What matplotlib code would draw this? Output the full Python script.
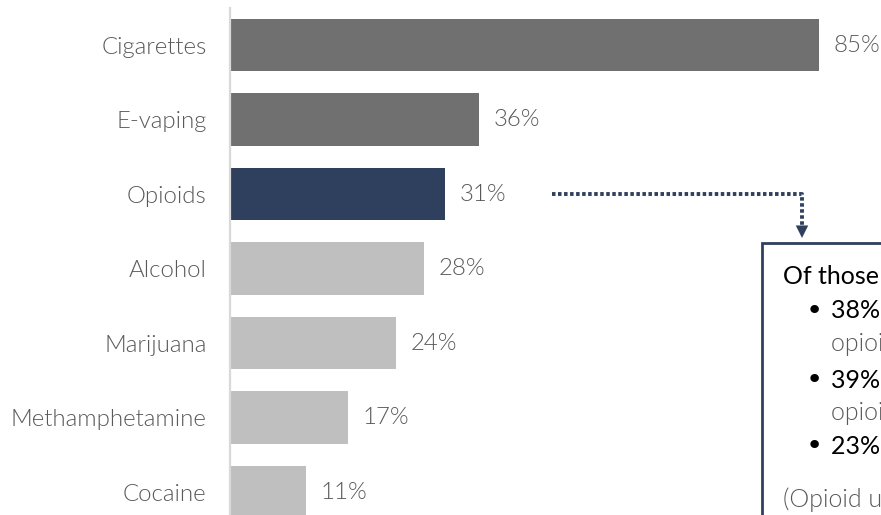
import matplotlib.pyplot as plt
from matplotlib import font_manager as fm
from matplotlib.patches import Rectangle

categories = ["Cigarettes", "E-vaping", "Opioids", "Alcohol", "Marijuana",
              "Methamphetamine", "Cocaine"]
values = [85, 36, 31, 28, 24, 17, 11]
bar_colors = ["#707070", "#707070", "#2F405E", "#BFBFBF", "#BFBFBF",
              "#BFBFBF", "#BFBFBF"]

note_heading = "Of those who misused opioids:"
note_bullets = [
    ("38% misused prescription", "opioids only"),
    ("39% misused prescription and", "opioids from other sources"),
    ("23% used illicit opioids only", None),
]
note_footer = "(Opioid use in the past 12 months)"

W, H = 881, 515
fig = plt.figure(figsize=(W / 100, H / 100), dpi=100)

# Lato Light for the labels, falling back to weight 300 lookup
light_path = None
for f in fm.fontManager.ttflist:
    if f.name == "Lato" and f.fname.endswith("Lato-Light.ttf"):
        light_path = f.fname
        break

def light_font(size):
    if light_path:
        return fm.FontProperties(fname=light_path, size=size)
    return fm.FontProperties(family="Lato", weight=300, size=size)

label_color = "#595959"
LABEL_SIZE = 17.3

# Axes in pixel terms: left edge at x=230, rows spaced 74.5 px from y=45
top_px = 45 - 74.5 / 2
bot_px = 45 + 74.5 * 6.5
ax = fig.add_axes([230 / W, (H - bot_px) / H, (W - 230) / W, (bot_px - top_px) / H])
px_per_unit = 6.93
ax.set_xlim(0, (W - 230) / px_per_unit)
ax.set_ylim(len(categories) - 0.5, -0.5)

ypos = list(range(len(categories)))
ax.barh(ypos, values, height=0.7, color=bar_colors, zorder=2)

ax.set_yticks(ypos)
ax.set_yticklabels(categories, color=label_color, fontproperties=light_font(LABEL_SIZE))
ax.tick_params(axis="y", length=0, pad=17)
ax.set_xticks([])
for s in ["top", "right", "bottom"]:
    ax.spines[s].set_visible(False)
ax.spines["left"].set_color("#D9D9D9")
ax.spines["left"].set_linewidth(1.6)

for y, v in zip(ypos, values):
    ax.text(v + 2.1, y, f"{v}%", va="center", ha="left",
            color=label_color, fontproperties=light_font(LABEL_SIZE))

# Dotted connector from the opioid bar to the note box
navy = "#2F405E"
op = categories.index("Opioids")
x0 = values[op] + 15.5
xc = (802 - 230) / px_per_unit
ax.plot([x0, xc, xc], [op, op, op + 0.50], color=navy, lw=2.8,
        linestyle=(0, (0.9, 0.65)), clip_on=False, zorder=3)
ax.annotate("", xy=(xc, op + 0.59), xytext=(xc, op + 0.37),
            arrowprops=dict(arrowstyle="-|>,head_length=0.9,head_width=0.45",
                            color=navy, lw=0, shrinkA=0, shrinkB=0),
            annotation_clip=False, zorder=4)

# Note box (extends past the figure edge)
fig.patches.append(Rectangle((762 / W, (H - 620) / H), 400 / W, (620 - 243) / H,
                             transform=fig.transFigure, facecolor="white",
                             edgecolor=navy, linewidth=2, zorder=5))

def fy(py):
    return (H - py) / H

fig.text(783 / W, fy(276), note_heading, fontsize=18, color="black",
         fontfamily="Lato", va="center", ha="left", zorder=6)
bullet_rows = [311, 380, 446]
for (first, second), py in zip(note_bullets, bullet_rows):
    fig.text(806 / W, fy(py), "\u2022", fontsize=21, color="black",
             fontfamily="DejaVu Sans", va="center", ha="left", zorder=6)
    fig.text(831 / W, fy(py), first, fontsize=18, color="black",
             fontfamily="Lato", va="center", ha="left", zorder=6)
    if second:
        fig.text(831 / W, fy(py + 33), second, color=label_color,
                 fontproperties=light_font(18), va="center", ha="left", zorder=6)
fig.text(783 / W, fy(500), note_footer, color=label_color,
         fontproperties=light_font(18), va="center", ha="left", zorder=6)

fig.savefig("out.png", dpi=100)
